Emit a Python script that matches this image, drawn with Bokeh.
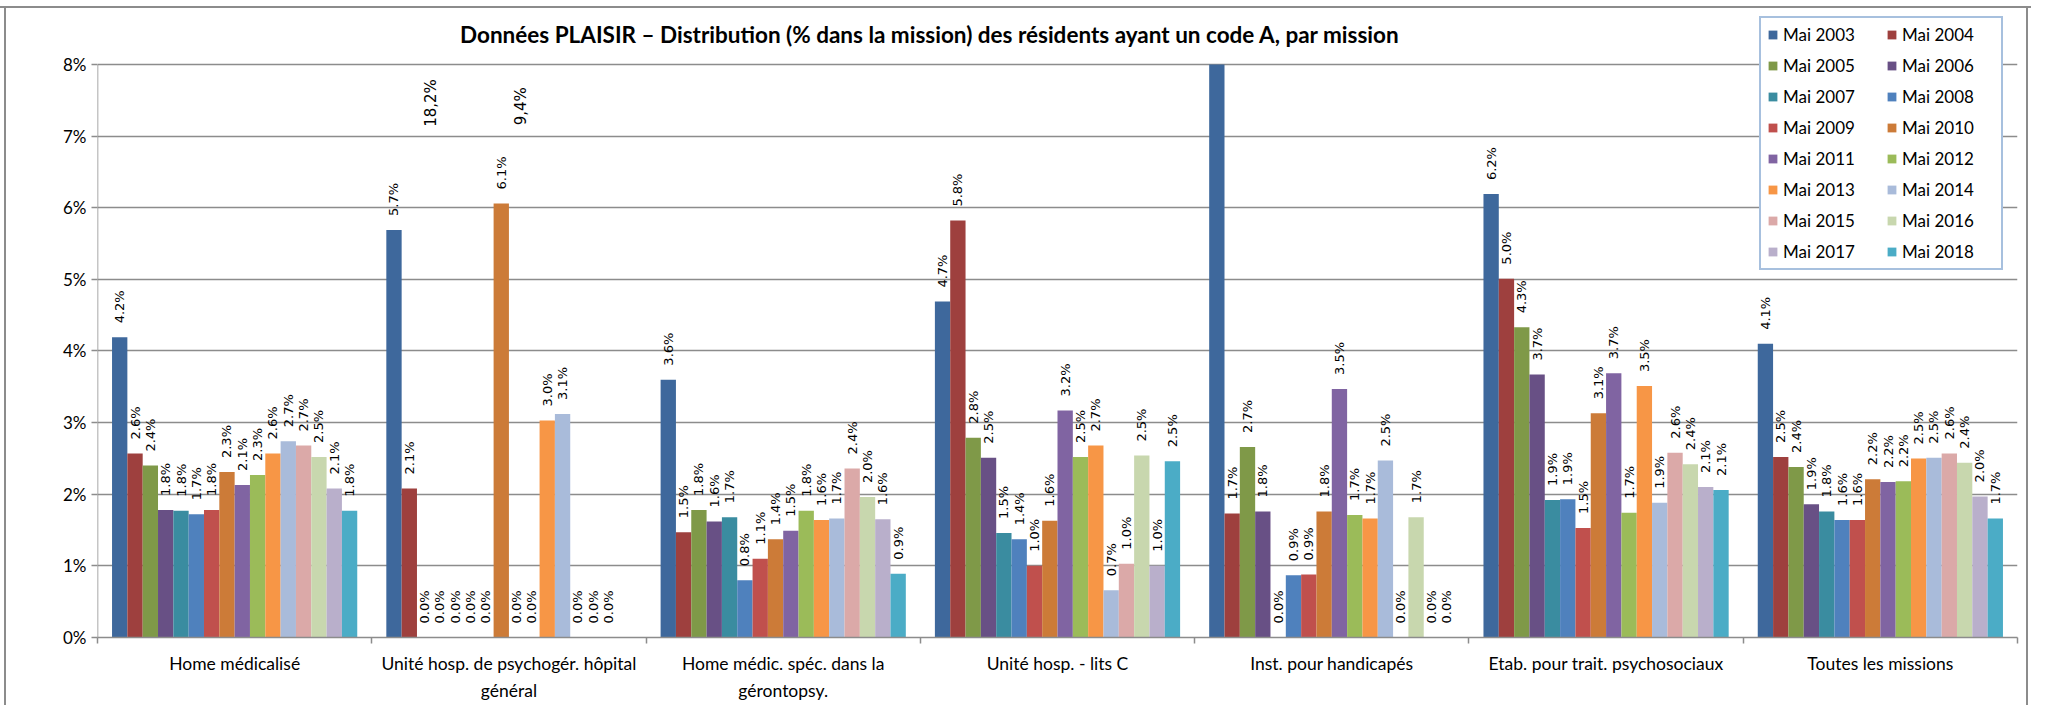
import numpy as np
from bokeh.plotting import figure
from bokeh.models import (ColumnDataSource, Range1d, FixedTicker, PrintfTickFormatter,
                          Legend, LegendItem, Label, LinearAxis)
from bokeh.core.properties import value
from bokeh.embed import file_html
from bokeh.resources import INLINE

# ---------------- data ----------------
missions_line1 = [
    "Home médicalisé",
    "Unité hosp. de psychogér. hôpital",
    "Home médic. spéc. dans la",
    "Unité hosp. - lits C",
    "Inst. pour handicapés",
    "Etab. pour trait. psychosociaux",
    "Toutes les missions",
]
missions_line2 = ["", "général", "gérontopsy.", "", "", "", ""]
years = ["Mai 2003", "Mai 2004", "Mai 2005", "Mai 2006", "Mai 2007", "Mai 2008",
         "Mai 2009", "Mai 2010", "Mai 2011", "Mai 2012", "Mai 2013", "Mai 2014",
         "Mai 2015", "Mai 2016", "Mai 2017", "Mai 2018"]
colors = ["#3E689C", "#9E403E", "#7F9948", "#685085", "#3A8CA0", "#4F81BD",
          "#C0504D", "#CC7B38", "#8064A2", "#9BBB59", "#F79646", "#A9BBDA",
          "#DBA9A8", "#C8D7AE", "#B9AFCB", "#4BACC6"]

# values in % for each year, one value per mission (same order as missions)
v2003 = [4.19, 5.69, 3.60, 4.69, 18.2, 6.19, 4.10]
v2004 = [2.57, 2.08, 1.47, 5.82, 1.73, 5.01, 2.52]
v2005 = [2.40, 0.0, 1.78, 2.79, 2.66, 4.33, 2.38]
v2006 = [1.78, 0.0, 1.62, 2.51, 1.76, 3.67, 1.86]
v2007 = [1.77, 0.0, 1.68, 1.46, 0.0, 1.92, 1.76]
v2008 = [1.72, 0.0, 0.80, 1.37, 0.87, 1.93, 1.64]
v2009 = [1.78, 0.0, 1.10, 1.00, 0.88, 1.53, 1.64]
v2010 = [2.31, 6.06, 1.37, 1.63, 1.76, 3.13, 2.21]
v2011 = [2.13, 0.0, 1.49, 3.17, 3.47, 3.69, 2.17]
v2012 = [2.27, 0.0, 1.77, 2.52, 1.71, 1.74, 2.18]
v2013 = [2.57, 3.03, 1.64, 2.68, 1.66, 3.51, 2.50]
v2014 = [2.74, 3.12, 1.66, 0.66, 2.47, 1.88, 2.51]
v2015 = [2.68, 0.0, 2.36, 1.03, 0.0, 2.58, 2.57]
v2016 = [2.52, 0.0, 1.96, 2.54, 1.68, 2.42, 2.44]
v2017 = [2.08, 0.0, 1.65, 1.00, 0.0, 2.10, 1.97]
v2018 = [1.77, None, 0.89, 2.46, 0.0, 2.06, 1.66]
series = [v2003, v2004, v2005, v2006, v2007, v2008, v2009, v2010,
          v2011, v2012, v2013, v2014, v2015, v2016, v2017, v2018]

y_ticks = [0, 1, 2, 3, 4, 5, 6, 7, 8]

# free text boxes of the original chart (mission index, bar slot, value level)
extra_text = ["18,2%", "9,4%"]
extra_mission = [1, 1]
extra_slot = [2.4, 8.3]
extra_level = [7.13, 7.15]

title_text = "Données PLAISIR – Distribution (% dans la mission) des résidents ayant un code A, par mission"

# ---------------- figure ----------------
GROUP = 0.894
n_s = len(years)
bw = GROUP / n_s
Y_MAX = y_ticks[-1]
Y_TOP = 8.893         # room above 8% for the title and legend

p = figure(width=2031, height=705, x_range=Range1d(0, len(missions_line1)),
           y_range=Range1d(0, Y_TOP),
           output_backend="svg", toolbar_location=None, title_location=None,
           min_border_left=97, min_border_right=14, min_border_top=0, min_border_bottom=68,
           background_fill_color=None, border_fill_color=None,
           outline_line_color=None)
p.styles = {"box-shadow": ("inset 0 6px 0 0 #ffffff, inset 0 8px 0 0 #8c8c8c, "
                           "inset 4px 0 0 0 #ffffff, inset 6px 0 0 0 #8c8c8c, "
                           "inset -3px 0 0 0 #ffffff, inset -5px 0 0 0 #8c8c8c")}

cat_idx = np.arange(len(missions_line1))
renderers = []
lab_x, lab_y, lab_t = [], [], []
for k, (yr, vals, col) in enumerate(zip(years, series, colors)):
    off = -GROUP / 2 + (k + 0.5) * bw
    xs = [i + 0.5 + off for i, v in zip(cat_idx, vals) if v is not None]
    ys = [v for v in vals if v is not None]
    shown = [min(v, Y_MAX) for v in ys]      # axis stops at 8 %
    src = ColumnDataSource(dict(x=xs, top=shown))
    r = p.vbar(x="x", top="top", width=bw, bottom=0, source=src,
               fill_color=col, line_color=None)
    renderers.append((yr, r))
    for xx, v in zip(xs, ys):
        if v <= Y_MAX:
            lab_x.append(xx)
            lab_y.append(v)
            lab_t.append(f"{v:.1f}%")

lab_src = ColumnDataSource(dict(x=lab_x, y=lab_y, t=lab_t))
p.text(x="x", y="y", text="t", source=lab_src, angle=np.pi / 2,
       text_align="left", text_baseline="middle", y_offset=-14,
       text_font=value("DejaVu Sans"), text_font_size="13px", text_color="#000000")

ex_x = [m + 0.5 - GROUP / 2 + (s + 0.5) * bw for m, s in zip(extra_mission, extra_slot)]
ex_src = ColumnDataSource(dict(x=ex_x, y=extra_level, t=extra_text))
p.text(x="x", y="y", text="t", source=ex_src, angle=np.pi / 2,
       text_align="left", text_baseline="middle",
       text_font=value("DejaVu Sans"), text_font_size="15px", text_color="#000000")

# y axis line only over the 0-8 % span
p.segment(x0=[0], y0=[y_ticks[0]], x1=[0], y1=[Y_MAX], line_color="#8c8c8c", line_width=1.5)

# title
p.add_layout(Label(x=3.035, y=8.42, text=title_text, text_align="center",
                   text_baseline="middle", text_font="Lato", text_font_style="bold",
                   text_font_size="22.5px", text_color="#000000"))

# x axis (first label line)
centers = [i + 0.5 for i in cat_idx]
xa = p.xaxis[0]
xa.ticker = FixedTicker(ticks=centers, minor_ticks=list(range(len(missions_line1) + 1)))
xa.major_label_overrides = {c: m for c, m in zip(centers, missions_line1)}
xa.major_tick_out = 0
xa.major_tick_in = 0
xa.minor_tick_out = 6
xa.minor_tick_in = 0
xa.minor_tick_line_color = "#8c8c8c"
xa.minor_tick_line_width = 1.5
xa.axis_line_color = "#8c8c8c"
xa.axis_line_width = 1.5
xa.major_label_standoff = 9
xa.major_label_text_font = "Lato"
xa.major_label_text_font_size = "17.5px"
xa.major_label_text_color = "#000000"

# second label line
c2 = [c for c, m in zip(centers, missions_line2) if m]
xa2 = LinearAxis(ticker=FixedTicker(ticks=c2),
                 major_label_overrides={c: m for c, m in zip(centers, missions_line2) if m},
                 axis_line_color=None, major_tick_line_color=None, minor_tick_line_color=None,
                 major_tick_out=0, major_tick_in=0, minor_tick_out=0, minor_tick_in=0,
                 major_label_standoff=3, major_label_text_font="Lato",
                 major_label_text_font_size="17.5px", major_label_text_color="#000000")
p.add_layout(xa2, "below")

ya = p.yaxis[0]
ya.ticker = FixedTicker(ticks=y_ticks)
ya.formatter = PrintfTickFormatter(format="%d%%")
ya.major_tick_out = 6
ya.major_tick_in = 0
ya.minor_tick_out = 0
ya.minor_tick_in = 0
ya.major_tick_line_color = "#8c8c8c"
ya.major_tick_line_width = 1.5
ya.axis_line_color = None
ya.major_label_standoff = 5
ya.major_label_text_font = "Lato"
ya.major_label_text_font_size = "17px"
ya.major_label_text_color = "#000000"

p.xgrid.visible = False
p.ygrid.grid_line_color = "#8c8c8c"
p.ygrid.grid_line_width = 1.5

# legend
legend = Legend(items=[LegendItem(label=yr, renderers=[r]) for yr, r in renderers],
                orientation="horizontal", ncols=2, location=(1662, 367),
                glyph_width=11, glyph_height=11, label_height=18, label_width=93,
                label_standoff=5, spacing=10, padding=6, margin=0,
                label_text_font="Lato", label_text_font_size="17px",
                label_text_color="#000000",
                border_line_color="#4F81BD", border_line_width=2,
                background_fill_color="white", background_fill_alpha=1.0)
p.add_layout(legend, "center")

open("out.html", "w").write(file_html(p, INLINE))
